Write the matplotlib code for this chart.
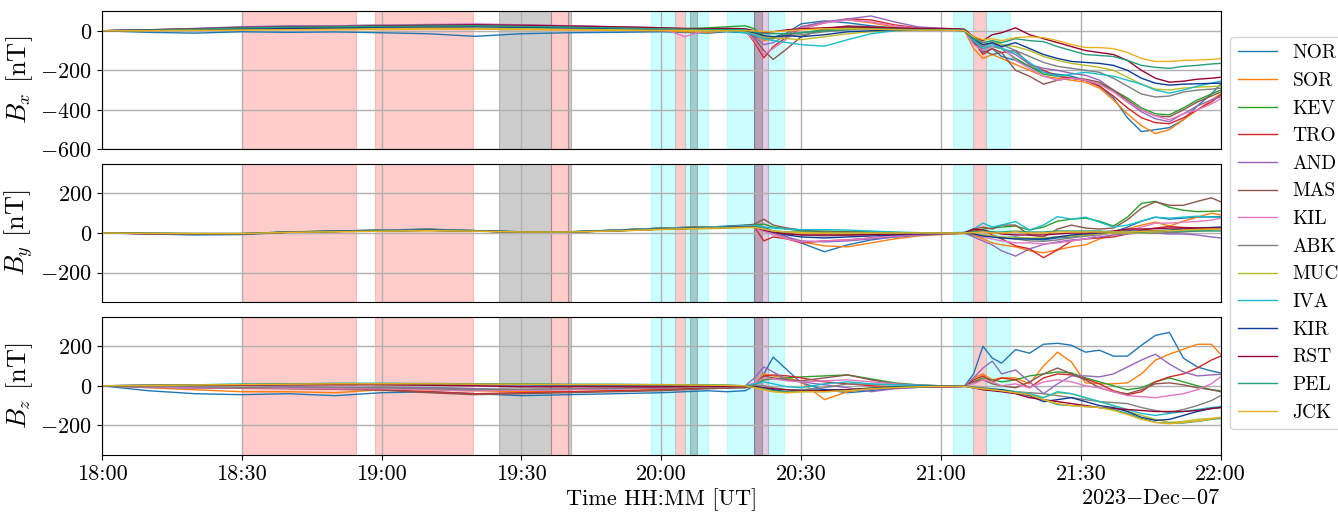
import matplotlib

matplotlib.use("Agg")
import matplotlib.pyplot as plt
import matplotlib.dates as mdates
import pandas as pd

# sample times, minutes after 18:00 UT
T_MIN = [0, 10, 20, 30, 40, 50, 60, 70, 80, 90, 100, 110, 120, 125, 130,
         134, 138, 140, 142, 144, 147, 150, 155, 160, 165, 170, 175,
         180, 183, 185, 187, 189, 191, 193, 196, 199, 202, 205, 208, 211,
         214, 217, 220, 223, 226, 229, 232, 235, 238, 240]

STATIONS = ["NOR", "SOR", "KEV", "TRO", "AND", "MAS", "KIL",
            "ABK", "MUC", "IVA", "KIR", "RST", "PEL", "JCK"]
COLORS = ["#1f77b4", "#ff7f0e", "#2ca02c", "#d62728", "#9467bd", "#8c564b", "#e377c2",
          "#7f7f7f", "#bcbd22", "#17becf", "#0c3c96", "#990033", "#22a077", "#ebb020"]

BX = {
    "NOR": [0, -8, -12, -5, -8, -6, -10, -15, -28, -15, -10, -8, -5, -8, -12,
            -5, -10, -30, -40, -35, -10, 35, 50, 40, 25, 15, 8,
            8, 8, 5, -60, -110, -90, -130, -150, -180, -210, -220, -230, -250, -280, -340, -440, -510, -500, -490, -450, -380, -320, -270],
    "SOR": [0, 2, 5, 8, 10, 12, 15, 15, 10, 8, 5, 3, 0, -5, -8,
            0, 5, -20, -50, -40, -15, 20, 45, 55, 40, 20, 10,
            8, 6, 3, -90, -140, -120, -140, -170, -200, -230, -240, -250, -260, -290, -350, -420, -480, -520, -500, -450, -400, -350, -320],
    "KEV": [0, 5, 10, 18, 22, 25, 28, 30, 30, 28, 22, 18, 12, 10, 15,
            20, 25, 10, -30, -40, -20, -10, 5, 15, 15, 10, 5,
            5, 5, 2, -40, -90, -80, -90, -140, -180, -220, -230, -240, -250, -270, -300, -340, -390, -420, -425, -390, -350, -320, -300],
    "TRO": [0, 4, 8, 15, 20, 22, 25, 28, 30, 26, 22, 18, 12, 8, 5,
            5, 5, -60, -137, -80, -30, 10, 40, 60, 55, 30, 15,
            10, 8, 5, -50, -120, -90, -110, -100, -170, -200, -230, -240, -250, -280, -330, -390, -440, -465, -470, -440, -400, -360, -325],
    "AND": [0, 5, 12, 20, 25, 25, 28, 30, 32, 30, 25, 20, 15, 10, 8,
            10, 5, -30, -70, -60, -20, 20, 45, 60, 75, 45, 20,
            12, 10, 5, -40, -80, -60, -90, -120, -170, -190, -200, -215, -225, -250, -300, -360, -410, -445, -460, -420, -380, -350, -335],
    "MAS": [0, 3, 8, 15, 20, 22, 25, 28, 28, 25, 20, 15, 10, 5, 2,
            5, 0, -40, -100, -145, -90, -30, 10, 25, 20, 15, 10,
            8, 6, 3, -50, -100, -120, -110, -200, -230, -270, -250, -240, -245, -260, -300, -350, -400, -430, -435, -400, -360, -330, -310],
    "KIL": [0, 5, 10, 15, 20, 25, 28, 32, 35, 30, 25, 20, 15, -30, 5,
            5, 0, -50, -120, -90, -40, 10, 40, 55, 45, 25, 12,
            10, 8, 5, -70, -100, -80, -80, -150, -190, -230, -250, -240, -250, -270, -310, -360, -400, -430, -450, -420, -400, -370, -345],
    "ABK": [0, 2, 6, 12, 15, 18, 20, 22, 22, 20, 15, 12, 8, 5, 5,
            5, 0, -20, -40, -35, -25, -20, -5, 5, 10, 8, 5,
            5, 3, 0, -40, -80, -60, -70, -100, -130, -160, -180, -190, -200, -210, -240, -280, -320, -335, -330, -310, -300, -295, -290],
    "MUC": [0, 2, 5, 8, 10, 12, 15, 15, 12, 10, 8, 5, 3, 0, 0,
            0, -5, -15, -30, -35, -40, -45, -30, -15, -5, 0, 3,
            3, 2, 0, -30, -60, -50, -70, -80, -100, -130, -150, -165, -175, -185, -200, -235, -270, -295, -300, -290, -285, -282, -280],
    "IVA": [0, 3, 8, 15, 20, 22, 25, 28, 28, 25, 20, 15, 10, 5, 0,
            0, -10, -20, -40, -50, -60, -70, -78, -45, -15, 0, 5,
            5, 3, 0, -50, -90, -70, -90, -110, -160, -210, -230, -220, -210, -220, -230, -250, -270, -300, -315, -300, -280, -265, -255],
    "KIR": [0, 3, 6, 10, 12, 15, 18, 20, 20, 18, 15, 12, 8, 5, 3,
            3, 0, -10, -25, -30, -25, -30, -20, -5, 0, 3, 3,
            3, 2, 0, -40, -70, -60, -80, -60, -90, -120, -140, -155, -160, -165, -175, -200, -240, -265, -275, -270, -268, -266, -265],
    "RST": [0, 4, 10, 16, 20, 22, 25, 28, 30, 28, 24, 20, 15, 12, 10,
            12, 10, 0, -10, -5, 5, 10, 15, 20, 18, 14, 12,
            12, 10, 8, -30, -50, -20, -10, 15, -20, -40, -60, -80, -100, -110, -120, -150, -200, -240, -260, -255, -245, -240, -235],
    "PEL": [0, 3, 8, 14, 18, 20, 22, 24, 25, 22, 18, 14, 10, 8, 6,
            6, 5, -5, -15, -15, -15, -10, 0, 5, 8, 8, 6,
            6, 5, 3, -40, -60, -50, -60, -40, -50, -55, -80, -100, -120, -125, -130, -150, -175, -185, -190, -180, -175, -168, -165],
    "JCK": [0, 0, 2, 3, 5, 5, 6, 8, 8, 6, 5, 3, 2, 2, 0,
            0, 0, 0, -5, -5, 0, 5, 10, 10, 8, 5, 3,
            3, 2, 0, -30, -45, -40, -50, -35, -30, -35, -50, -70, -85, -85, -90, -110, -140, -155, -155, -150, -148, -145, -140],
}

BY = {
    "NOR": [0, -5, -10, -8, 3, 10, 15, 20, 12, 5, 5, 15, 25, 28, 30,
            35, 40, 40, 30, 10, -20, -50, -95, -60, -35, -20, -12,
            -5, -3, 0, -10, -20, -15, -25, -20, -30, -35, -25, -20, -15, -10, 5, 30, 60, 80, 70, 75, 80, 82, 83],
    "SOR": [0, -3, -5, -5, 5, 8, 12, 15, 10, 5, 5, 12, 22, 25, 28,
            30, 35, 35, 20, 0, -30, -45, -65, -70, -50, -30, -15,
            -8, -5, -3, -10, -30, -50, -60, -70, -90, -100, -85, -70, -60, -30, -10, 20, 40, 55, 35, 60, 80, 100, 92],
    "KEV": [0, -2, -3, -3, 5, 10, 14, 18, 12, 6, 6, 14, 24, 28, 30,
            32, 38, 40, 45, 30, 20, 10, 10, 8, 5, 3, 0,
            0, 0, 2, 10, 20, 25, 30, 35, 15, 30, 60, 70, 75, 60, 35, 80, 150, 160, 130, 115, 108, 110, 112],
    "TRO": [0, -3, -4, -4, 4, 8, 12, 15, 10, 5, 5, 12, 20, 24, 26,
            30, 35, 30, -40, -20, -30, -50, -40, -35, -25, -15, -8,
            -3, 0, 2, 15, 15, -10, -30, -65, -80, -125, -85, -40, -30, -25, -20, -5, 15, 25, 33, 28, 25, 25, 25],
    "AND": [0, -3, -5, -5, 5, 8, 12, 15, 10, 5, 5, 12, 22, 25, 28,
            30, 35, 30, 10, 0, -20, -40, -45, -40, -30, -20, -12,
            -5, -3, 0, -20, -40, -60, -90, -117, -80, -58, -45, -35, -30, -20, -10, -5, 0, 0, -5, -5, -10, -20, -25],
    "MAS": [0, -2, -3, -3, 5, 10, 14, 18, 12, 6, 6, 14, 24, 28, 30,
            32, 38, 45, 70, 40, 25, 15, 5, 5, 3, 0, 0,
            0, 0, 2, 20, 30, 20, 40, 40, -10, -20, 20, 40, 25, 20, 25, 67, 125, 158, 140, 140, 160, 178, 158],
    "KIL": [0, -3, -5, -5, 5, 8, 12, 15, 10, 5, 5, 12, 22, 25, 28,
            30, 35, 30, 10, -10, -30, -45, -40, -35, -25, -15, -8,
            -3, 0, 0, -5, -20, -30, -40, -50, -50, -55, -50, -40, -30, -10, 0, 10, 30, 50, 50, 55, 58, 65, 75],
    "ABK": [0, -2, -4, -4, 4, 8, 12, 14, 10, 5, 5, 12, 20, 24, 26,
            28, 32, 30, 20, 10, 0, -10, -15, -12, -8, -5, -3,
            -2, 0, 0, -5, -10, -15, -20, -30, -40, -42, -35, -25, -15, -5, 0, 0, 0, 0, 2, 5, 10, 15, 17],
    "MUC": [0, -2, -3, -3, 4, 7, 10, 12, 9, 5, 5, 10, 18, 20, 22,
            24, 28, 28, 20, 10, 5, 0, -5, -5, -3, -2, 0,
            0, 0, 0, -5, -10, -15, -20, -25, -25, -25, -20, -15, -10, -5, 0, 0, 0, 5, 10, 12, 15, 18, 20],
    "IVA": [0, -2, -3, -3, 5, 9, 13, 16, 11, 6, 6, 13, 23, 26, 29,
            32, 36, 38, 30, 25, 20, 17, 17, 15, 10, 5, 2,
            0, 2, 3, 20, 50, 30, 40, 58, 15, 40, 83, 70, 80, 55, 30, 40, 60, 80, 75, 80, 85, 80, 80],
    "KIR": [0, -3, -4, -4, 4, 8, 11, 14, 10, 5, 5, 11, 20, 23, 26,
            28, 32, 30, 20, 5, -10, -20, -25, -20, -15, -10, -5,
            -3, 0, 0, -5, -15, -20, -25, -30, -30, -30, -20, -10, -5, 0, 5, 10, 10, 12, 15, 20, 25, 28, 30],
    "RST": [0, -3, -5, -5, 4, 8, 11, 14, 10, 5, 5, 11, 20, 23, 26,
            28, 30, 30, 15, 5, -5, -10, -10, -10, -8, -5, -3,
            -2, 0, 0, 20, 15, 5, -5, -10, -10, -10, -5, 0, 0, 5, 10, 20, 20, 22, 25, 25, 25, 25, 25],
    "PEL": [0, -2, -4, -4, 4, 8, 11, 14, 10, 5, 5, 11, 20, 23, 26,
            27, 30, 30, 20, 10, 5, 5, 3, 2, 2, 1, 0,
            0, 0, 0, 5, 10, 5, 5, 10, 5, 5, 10, 10, 10, 10, 5, 5, 5, 8, 10, 10, 10, 10, 10],
    "JCK": [0, -2, -3, -3, 3, 6, 9, 12, 9, 5, 5, 10, 18, 21, 24,
            25, 28, 28, 20, 10, 5, 2, 0, 0, 0, 0, 0,
            0, 0, 0, 2, 5, 0, 0, 5, 0, 0, 5, 5, 5, 5, 5, 5, 8, 10, 12, 15, 18, 20, 20],
}

BZ = {
    "NOR": [0, -25, -40, -45, -40, -50, -35, -30, -40, -50, -45, -40, -35, -30, -25,
            -30, -25, 0, 60, 145, 80, 15, -20, -35, -25, -13, -8,
            -5, -5, -3, 60, 200, 140, 115, 183, 165, 210, 215, 205, 170, 180, 150, 150, 205, 255, 270, 140, 95, 75, 65],
    "SOR": [0, -10, -20, -30, -30, -35, -20, -20, -25, -30, -30, -25, -20, -15, -10,
            -10, -5, 10, 60, 50, 40, 20, -70, -30, -15, -8, -5,
            -5, -5, -3, 40, 60, 30, 40, 40, 10, 100, 170, 120, 15, 10, 10, 15, 60, 130, 160, 185, 210, 210, 160],
    "KEV": [0, -5, -10, -12, -10, -12, -8, -10, -15, -20, -18, -15, -10, -8, -5,
            -5, -5, 5, 30, 35, 40, 45, 50, 55, 35, 15, 5,
            0, 0, 0, 20, 40, 30, 20, 30, 50, 60, 70, 65, 40, 20, 0, -20, -10, 20, 40, 20, 0, -20, -25],
    "TRO": [0, -3, -8, -10, -10, -15, -20, -30, -40, -35, -30, -25, -20, -15, -12,
            -10, -8, 10, 50, 55, 50, 40, 20, 10, 0, -5, -5,
            -5, -5, -3, 30, 50, 20, 40, 30, -10, 40, 60, 55, 35, 10, -25, -45, -30, 20, 45, 60, 90, 130, 150],
    "AND": [0, -8, -12, -10, -8, -10, -8, -10, -15, -20, -18, -15, -12, -8, -5,
            -5, 0, 40, 95, 70, 30, 20, 5, -10, -30, -15, -8,
            -5, -5, -3, 40, 90, 125, 60, 80, 20, -40, 10, 50, 50, 45, 60, 95, 130, 160, 110, 70, 50, 55, 58],
    "MAS": [0, -3, -8, -12, -15, -18, -22, -35, -45, -40, -35, -30, -25, -20, -15,
            -12, -10, 5, 50, 40, 30, 25, 40, 55, 30, 10, 0,
            0, 0, 0, 20, 30, 10, 0, -10, 20, 60, 90, 60, 30, -10, -30, -40, -20, 10, 15, 5, -10, -20, -30],
    "KIL": [0, -5, -10, -10, -12, -15, -15, -20, -25, -22, -20, -15, -10, -5, -3,
            -3, 0, 15, 40, 35, 25, 20, 25, 30, 20, 10, 3,
            0, 0, 0, 10, 30, 20, 0, 10, -10, 20, 30, 20, 0, -10, -30, -50, -55, -60, -50, -40, -20, 10, 45],
    "ABK": [0, -2, -5, -8, -5, -8, -10, -15, -20, -18, -15, -12, -10, -8, -5,
            -5, -3, 0, 0, -10, -20, -20, -10, 10, 8, 5, 3,
            0, 0, 0, -5, -10, -15, -20, -30, -35, -40, -50, -60, -70, -80, -85, -90, -110, -125, -135, -120, -100, -75, -50],
    "MUC": [0, 0, 3, 5, 8, 8, 10, 10, 8, 8, 5, 5, 3, 3, 2,
            2, 0, -10, -20, -30, -35, -30, -25, -20, -10, -5, -3,
            -2, -2, 0, -10, -15, -18, -20, -30, -40, -60, -35, -40, -60, -80, -100, -130, -150, -170, -185, -180, -170, -165, -160],
    "IVA": [0, 3, 5, 8, 10, 12, 12, 10, 8, 8, 5, 5, 5, 3, 2,
            2, 0, 10, 20, 10, -5, -10, 10, 20, 10, 5, 2,
            0, 0, 0, -10, -15, -18, -20, -30, -40, -60, -30, -40, -60, -80, -100, -120, -140, -150, -140, -130, -120, -110, -105],
    "KIR": [0, 2, 3, 5, 6, 8, 8, 6, 5, 5, 3, 3, 2, 2, 0,
            0, -3, -5, -10, -20, -30, -25, -20, -20, -12, -5, -3,
            -2, -2, 0, -10, -15, -18, -20, -35, -50, -80, -70, -60, -80, -100, -110, -130, -160, -175, -170, -150, -130, -115, -110],
    "RST": [0, 2, 3, 3, 5, 5, 5, 3, 0, -5, -5, -5, -5, -3, -2,
            -2, -3, -5, -10, -15, -20, -25, -25, -20, -15, -10, -5,
            -3, -3, -2, -10, -20, -25, -30, -40, -60, -70, -80, -90, -100, -110, -115, -120, -125, -130, -130, -130, -125, -115, -110],
    "PEL": [0, 3, 5, 8, 10, 12, 12, 12, 10, 10, 8, 8, 6, 5, 5,
            3, 0, -8, -15, -25, -30, -28, -30, -25, -15, -8, -5,
            -3, -3, -2, -10, -15, -20, -25, -35, -45, -70, -95, -100, -105, -110, -120, -140, -165, -185, -190, -188, -180, -170, -165],
    "JCK": [0, 2, 4, 6, 8, 10, 10, 10, 8, 8, 6, 6, 5, 4, 3,
            2, 0, -10, -20, -30, -35, -30, -30, -25, -15, -10, -5,
            -3, -3, -2, -10, -15, -20, -25, -35, -45, -70, -90, -100, -105, -110, -125, -145, -170, -185, -192, -185, -178, -168, -160],
}

# shaded event intervals (UT)
RED_SPANS = [("18:30:00", "18:54:30"), ("18:58:30", "19:19:40"), ("19:36:20", "19:40:00"),
             ("20:02:50", "20:05:10"), ("21:06:50", "21:09:35")]
CYAN_SPANS = [("19:57:50", "20:02:50"), ("20:05:10", "20:10:00"), ("20:14:10", "20:19:55"),
              ("20:22:50", "20:26:25"), ("21:02:35", "21:06:50"), ("21:09:35", "21:14:50")]
PURPLE_SPANS = [("20:19:55", "20:22:50")]
GREY_SPANS = [("19:25:05", "19:36:20"), ("19:40:00", "19:40:40"), ("20:06:10", "20:07:40"),
              ("20:19:55", "20:21:35")]

DAY = "2023-12-07"

plt.rcParams["font.family"] = "serif"
plt.rcParams["font.serif"] = ["cmr10"]
plt.rcParams["mathtext.fontset"] = "cm"
plt.rcParams["axes.formatter.use_mathtext"] = True
plt.rcParams["font.size"] = 16

times = pd.Timestamp(f"{DAY} 18:00") + pd.to_timedelta(T_MIN, unit="m")

fig, axes = plt.subplots(3, 1, figsize=(13.38, 5.14), dpi=100, sharex=True)
fig.subplots_adjust(left=0.0762, right=0.9123, top=0.9786, bottom=0.1148, hspace=0.104)

panels = [(BX, r"$B_x$ [nT]", (-600, 100), [-600, -400, -200, 0]),
          (BY, r"$B_y$ [nT]", (-350, 350), [-200, 0, 200]),
          (BZ, r"$B_z$ [nT]", (-350, 350), [-200, 0, 200])]

for ax, (data, label, ylim, yticks) in zip(axes, panels):
    for spans, color in [(RED_SPANS, "red"), (CYAN_SPANS, "cyan"),
                         (PURPLE_SPANS, "purple"), (GREY_SPANS, "black")]:
        for start, end in spans:
            ax.axvspan(pd.Timestamp(f"{DAY} {start}"), pd.Timestamp(f"{DAY} {end}"),
                       color=color, alpha=0.2, lw=0.8)
    for name, color in zip(STATIONS, COLORS):
        ax.plot(times, data[name], color=color, lw=1.0, label=name)
    ax.set_ylim(*ylim)
    ax.set_yticks(yticks)
    ax.set_ylabel(label, fontsize=19)
    ax.grid(True, color="#b0b0b0", lw=1.0)

for ax in axes[:2]:
    ax.tick_params(axis="x", length=0)

axes[2].set_xlim(pd.Timestamp(f"{DAY} 18:00"), pd.Timestamp(f"{DAY} 22:00"))
axes[2].xaxis.set_major_locator(mdates.MinuteLocator(byminute=[0, 30]))
axes[2].xaxis.set_major_formatter(mdates.DateFormatter("%H:%M"))
axes[2].set_xlabel("Time HH:MM [UT]", labelpad=3)
axes[2].text(1.0, -0.31, "2023$-$Dec$-$07", transform=axes[2].transAxes,
             ha="right", va="center")
axes[1].legend(loc="center left", bbox_to_anchor=(1.0, 0.5), fontsize=14)
fig.align_ylabels(axes)

fig.savefig("out.png", dpi=100)
